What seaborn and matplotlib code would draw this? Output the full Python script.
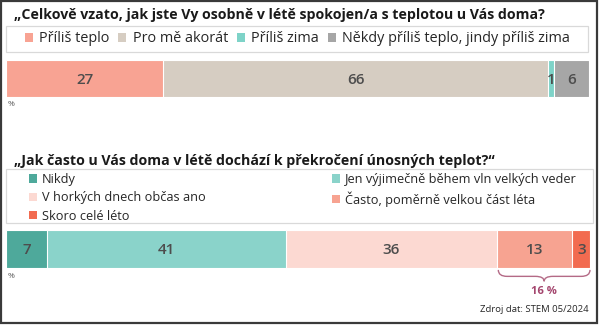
import matplotlib
matplotlib.use("Agg")
import matplotlib.pyplot as plt
import seaborn as sns
import numpy as np
import pandas as pd
from matplotlib.patches import Patch, Rectangle
from matplotlib.path import Path
from matplotlib.patches import PathPatch

sns.set_theme(style="white")
plt.rcParams["font.family"] = ["Open Sans", "DejaVu Sans"]

# Question 1: satisfaction with summer temperature at home
q1_title = "„Celkově vzato, jak jste Vy osobně v létě spokojen/a s teplotou u Vás doma?"
q1_labels = ["Příliš teplo", "Pro mě akorát", "Příliš zima", "Někdy příliš teplo, jindy příliš zima"]
q1_values = [27, 66, 1, 6]
q1_colors = ["#F8A393", "#D6CDC2", "#7ED3C8", "#A6A6A6"]

# Question 2: how often indoor temperatures exceed bearable levels
q2_title = "„Jak často u Vás doma v létě dochází k překročení únosných teplot?“"
q2_labels = ["Nikdy", "Jen výjimečně během vln velkých veder", "V horkých dnech občas ano",
             "Často, poměrně velkou část léta", "Skoro celé léto"]
q2_values = [7, 41, 36, 13, 3]
q2_colors = ["#4EA99B", "#8AD3CA", "#FCD9D2", "#F7A391", "#F26B50"]
q2_legend_order = [0, 2, 4, 1, 3]

brace_label = "16 %"
source_text = "Zdroj dat: STEM 05/2024"

W, H = 600, 332
fig = plt.figure(figsize=(W / 100, H / 100), dpi=100)


def fx(x):
    return x / W


def fy(y):
    return 1 - y / H


def px_axes(x0, y0, x1, y1):
    return fig.add_axes([fx(x0), fy(y1), (x1 - x0) / W, (y1 - y0) / H])


def stacked_bar(ax, values, colors):
    cum = np.cumsum(values)
    # draw from the longest cumulative bar down so each segment shows on top
    for i in range(len(values) - 1, -1, -1):
        df = pd.DataFrame({"v": [cum[i]], "row": ["a"]})
        sns.barplot(data=df, x="v", y="row", orient="h", color=colors[i], width=1.0,
                    saturation=1, edgecolor="white", linewidth=0.8, ax=ax)
    starts = np.concatenate([[0], cum[:-1]])
    for s, v in zip(starts, values):
        ax.text(s + v / 2, 0.03, str(v), ha="center", va="center", fontsize=11,
                color="#4D4D4D", fontweight="semibold")
    ax.set_xlim(0, 100)
    ax.set_ylim(0.5, -0.5)
    ax.axis("off")


ax1 = px_axes(6, 60, 589, 97)
stacked_bar(ax1, q1_values, q1_colors)

ax2 = px_axes(6, 230, 590, 268)
stacked_bar(ax2, q2_values, q2_colors)

# titles
fig.text(fx(14), fy(15), q1_title, fontsize=10.2, fontweight="bold", color="#1a1a1a",
         ha="left", va="center")
fig.text(fx(14), fy(161), q2_title, fontsize=10.2, fontweight="bold", color="#1a1a1a",
         ha="left", va="center")

# legend boxes
for (x0, y0, x1, y1) in [(6, 26, 588, 52), (6, 169, 593, 223)]:
    fig.patches.append(Rectangle((fx(x0), fy(y1)), (x1 - x0) / W, (y1 - y0) / H,
                                 transform=fig.transFigure, fill=False,
                                 edgecolor="#D9D9D9", linewidth=0.9))

h1 = [Patch(facecolor=c, edgecolor="none") for c in q1_colors]
fig.legend(h1, q1_labels, loc="center left", ncol=4, bbox_to_anchor=(fx(25), fy(39)),
           fontsize=10.4, frameon=False, handlelength=0.55, handleheight=0.55,
           handletextpad=0.45, columnspacing=0.6, borderaxespad=0, borderpad=0,
           labelcolor="#262626")

h2 = [Patch(facecolor=q2_colors[i], edgecolor="none") for i in q2_legend_order]
l2 = [q2_labels[i] for i in q2_legend_order]
fig.legend(h2, l2, loc="upper left", ncol=2, bbox_to_anchor=(fx(29), fy(173)),
           fontsize=9.2, frameon=False, handlelength=0.6, handleheight=0.6,
           handletextpad=0.4, columnspacing=9.9, borderaxespad=0, borderpad=0,
           labelspacing=0.42, labelcolor="#262626")

# percent markers
fig.text(fx(8), fy(105), "%", fontsize=6, color="#595959", ha="left", va="center")
fig.text(fx(8), fy(277), "%", fontsize=6, color="#595959", ha="left", va="center")

# brace under the last two segments of the second bar
b0 = sum(q2_values[:3]) + 0.3
b1 = 100.0
bm = (b0 + b1) / 2
ytop, ymid, ybot = 0.55, 0.72, 0.85
verts = [(b0, ytop), (b0, ymid), (b0 + 1.5, ymid), (bm - 1.5, ymid), (bm, ymid),
         (bm, ybot), (bm, ybot), (bm, ymid), (bm + 1.5, ymid), (b1 - 1.5, ymid),
         (b1, ymid), (b1, ytop)]
codes = [Path.MOVETO, Path.CURVE3, Path.CURVE3, Path.LINETO, Path.CURVE3, Path.CURVE3,
         Path.MOVETO, Path.CURVE3, Path.CURVE3, Path.LINETO, Path.CURVE3, Path.CURVE3]
brace = PathPatch(Path(verts, codes), facecolor="none", edgecolor="#B46A86", linewidth=1.0,
                  clip_on=False)
ax2.add_patch(brace)
ax2.text(bm, 1.13, brace_label, ha="center", va="center", fontsize=8, color="#A4466E",
         fontweight="bold", clip_on=False)

fig.text(fx(589), fy(310), source_text, ha="right", va="center", fontsize=6.8,
         color="#262626")

# outer frame
fig.patches.append(Rectangle((fx(1), fy(323)), 596 / W, 322 / H, transform=fig.transFigure,
                             fill=False, edgecolor="#3A3A3A", linewidth=1.6))

fig.savefig("out.png", dpi=100)
